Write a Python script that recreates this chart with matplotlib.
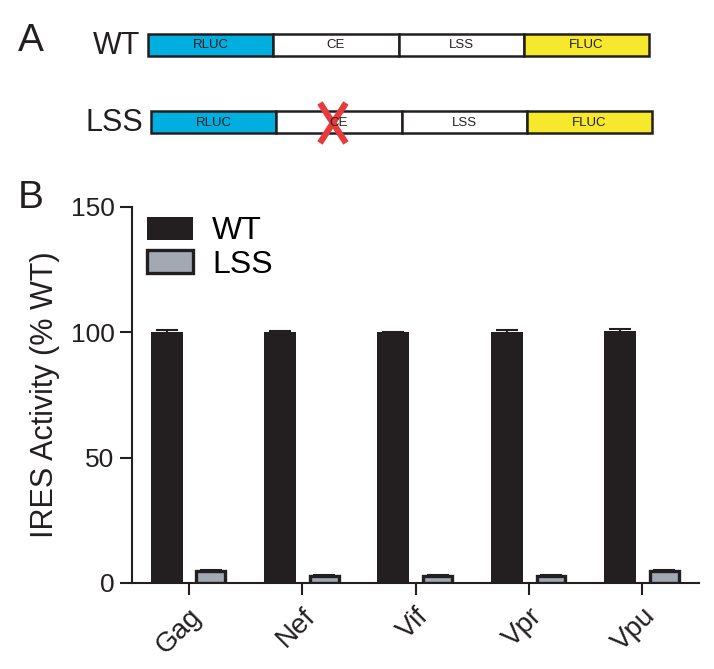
import numpy as np
import matplotlib
matplotlib.use('Agg')
from matplotlib import pyplot as plt
from matplotlib.patches import Rectangle

plt.rcParams['font.family'] = ['Liberation Sans', 'DejaVu Sans']

# panel B data
genes = ['Gag', 'Nef', 'Vif', 'Vpr', 'Vpu']
wt = [100.3, 100.2, 100.0, 100.3, 100.6]
wt_err = [0.6, 0.4, 0.2, 0.5, 0.9]
lss = [4.8, 2.8, 2.8, 2.8, 4.8]
lss_err = [0.3, 0.2, 0.2, 0.2, 0.3]

# panel A construct layout
segments = ['RLUC', 'CE', 'LSS', 'FLUC']
seg_colors = ['#00aee0', 'white', 'white', '#f6e82c']
constructs = ['WT', 'LSS']

dark = '#231f20'
W, H = 714, 669

fig = plt.figure(figsize=(W / 100, H / 100), dpi=100)

# ---- panel A (drawn in pixel coords on an overlay axes)
ov = fig.add_axes([0, 0, 1, 1])
ov.set_xlim(0, W)
ov.set_ylim(H, 0)
ov.axis('off')

row_top = [34, 111]
row_x0 = [148, 151]
seg_w = 125.3
for r, name in enumerate(constructs):
    y0 = row_top[r]
    for i, seg in enumerate(segments):
        x0 = row_x0[r] + i * seg_w
        ov.add_patch(Rectangle((x0, y0), seg_w, 22, facecolor=seg_colors[i],
                               edgecolor=dark, lw=1.8))
        ov.text(x0 + seg_w / 2, y0 + 11.5, seg, ha='center', va='center',
                fontsize=9.5, color=dark)
    ov.text(row_x0[r] - 8, y0 + 12, name, ha='right', va='center',
            fontsize=22, color=dark)
    if name == 'LSS':
        cx = row_x0[r] + 1.5 * seg_w - 6
        ov.plot([cx - 13, cx + 13], [y0 - 8, y0 + 32], color='#e63a3c', lw=4.5,
                solid_capstyle='butt')
        ov.plot([cx + 13, cx - 13], [y0 - 8, y0 + 32], color='#e63a3c', lw=4.5,
                solid_capstyle='butt')

fig.text(18 / W, 1 - 51 / H, 'A', fontsize=28, color=dark)
fig.text(18 / W, 1 - 208 / H, 'B', fontsize=28, color=dark)

# ---- panel B
ax = fig.add_axes([132 / W, 1 - 583 / H, (699 - 132) / W, (583 - 207) / H])
x = np.arange(len(genes))
ax.bar(x - 0.195, wt, 0.283, color=dark, label='WT', zorder=2)
ax.errorbar(x - 0.195, wt, yerr=wt_err, fmt='none', ecolor=dark, elinewidth=1.5,
            capsize=8, capthick=1.5, zorder=3)
ax.bar(x + 0.195, lss, 0.254, color='#a3a9b3', edgecolor=dark, linewidth=2.4,
       label='LSS', zorder=2)
ax.errorbar(x + 0.195, lss, yerr=lss_err, fmt='none', ecolor=dark, elinewidth=1.5,
            capsize=8, capthick=1.5, zorder=3)

ax.set_xlim(-0.5, 4.5)
ax.set_ylim(0, 150)
ax.set_yticks([0, 50, 100, 150])
ax.set_xticks(x)
ax.set_xticklabels(genes, rotation=45, ha='right', rotation_mode='anchor')
ax.spines['top'].set_visible(False)
ax.spines['right'].set_visible(False)
for s in ['left', 'bottom']:
    ax.spines[s].set_linewidth(1.5)
    ax.spines[s].set_color(dark)
ax.tick_params(axis='both', length=8.5, width=1.5, color=dark, labelsize=19,
               labelcolor=dark, pad=4)
ax.tick_params(axis='x', pad=6, labelsize=20)
ax.set_ylabel('IRES Activity (% WT)', fontsize=22, color=dark, labelpad=8)

ax.legend(loc='upper left', bbox_to_anchor=(0.026, 0.975), frameon=False,
          fontsize=23, handlelength=1.44, handleheight=0.75, handletextpad=0.6,
          labelspacing=0.1, borderpad=0, borderaxespad=0)

fig.savefig('out.png', dpi=100)
